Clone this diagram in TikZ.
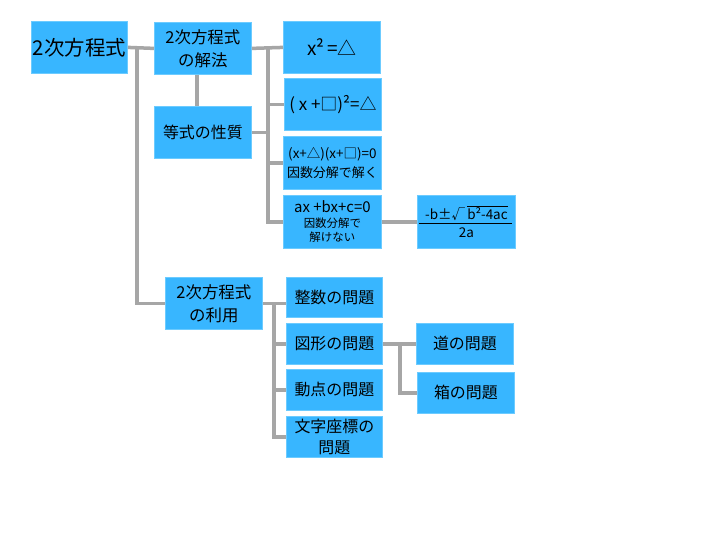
\documentclass[tikz,border=0pt]{standalone}
\usepackage{fontspec}
\setmainfont{Noto Sans CJK JP}
\definecolor{boxblue}{HTML}{38B6FF}
\definecolor{boxline}{HTML}{6CCBFF}
\definecolor{conngray}{HTML}{A6A6A6}
\begin{document}
\begin{tikzpicture}[x=1bp,y=-1bp,
  box/.style={draw=boxline, fill=boxblue, line width=0.8bp, anchor=north west,
    align=center, inner sep=1bp, text=black},
  conn/.style={draw=conngray, line width=3.5bp, line join=miter}]
\useasboundingbox[fill=white] (0,0) rectangle (720,540);
% nodes
\node[box, minimum width=96bp, minimum height=52bp, font=\fontsize{20.5}{24}\selectfont] (A) at (31,21) {2次方程式};
\node[box, minimum width=97bp, minimum height=52bp, font=\fontsize{16.5}{23}\selectfont] (B) at (154,22) {2次方程式\\の解法};
\node[box, minimum width=97bp, minimum height=52bp, font=\fontsize{19}{22}\selectfont] (C) at (283,21) {x²\,=△};
\node[box, minimum width=97bp, minimum height=52bp, font=\fontsize{17}{20}\selectfont] (D) at (284,78) {( x +□)²=△};
\node[box, minimum width=97bp, minimum height=52bp, font=\fontsize{16}{22}\selectfont] (E) at (154,106) {等式の性質};
\node[box, minimum width=98bp, minimum height=53bp, font=\fontsize{13.5}{19}\selectfont] (F) at (283,136) {(x+△)(x+□)=0\\{\fontsize{13}{19}\selectfont 因数分解で解く}};
\node[box, minimum width=98bp, minimum height=53bp, font=\fontsize{11.5}{14.5}\selectfont] (G) at (283,195) {{\fontsize{15}{14.5}\selectfont ax +bx+c=0}\\因数分解で\\解けない};
\node[box, minimum width=98bp, minimum height=53bp, font=\fontsize{13.5}{18}\selectfont] (H) at (417,195) {-b±√\,$\overline{\hbox{b²-4ac}}$\\2a};
\node[box, minimum width=97bp, minimum height=52bp, font=\fontsize{16.5}{23}\selectfont] (I) at (165,277) {2次方程式\\の利用};
\node[box, minimum width=96bp, minimum height=40bp, font=\fontsize{16}{21}\selectfont] (J) at (286,277) {整数の問題};
\node[box, minimum width=96bp, minimum height=41bp, font=\fontsize{16}{21}\selectfont] (K) at (286,323) {図形の問題};
\node[box, minimum width=96bp, minimum height=41bp, font=\fontsize{16}{21}\selectfont] (L) at (286,369) {動点の問題};
\node[box, minimum width=96bp, minimum height=41bp, font=\fontsize{16}{21}\selectfont] (M) at (286,416) {文字座標の\\問題};
\node[box, minimum width=97bp, minimum height=41bp, font=\fontsize{16}{21}\selectfont] (N) at (416,323) {道の問題};
\node[box, minimum width=97bp, minimum height=41bp, font=\fontsize{16}{21}\selectfont] (O) at (417,372) {箱の問題};
% fraction line
\draw[black, line width=0.9bp] ([xshift=2bp,yshift=-1.5bp]H.west) -- ([xshift=-4bp,yshift=-1.5bp]H.east);
% bus coordinates
\coordinate (s0) at (137,48);
\coordinate (s1) at (268,48);
\coordinate (s2) at (274,303);
\coordinate (s3) at (400,345);
% connectors
\draw[conn] (A.east) -- (B.west);
\draw[conn] (s0) |- (I.west);
\draw[conn] ([xshift=-6bp]B.south) -- ([xshift=-6bp]E.north);
\draw[conn] (B.east) -- (C.west);
\draw[conn] (s1) |- (G.west);
\draw[conn] (s1 |- D.west) -- (D.west);
\draw[conn] (E.east) -- (s1 |- E.east);
\draw[conn] (s1 |- F.west) -- (F.west);
\draw[conn] (G.east) -- (H.west);
\draw[conn] (I.east) -- (I.east -| J.west);
\draw[conn] (s2) |- (M.west);
\draw[conn] (s2 |- K.west) -- (K.west);
\draw[conn] (s2 |- L.west) -- (L.west);
\draw[conn] (K.east) -- (N.west);
\draw[conn] (s3) |- (O.west);
\end{tikzpicture}
\end{document}
